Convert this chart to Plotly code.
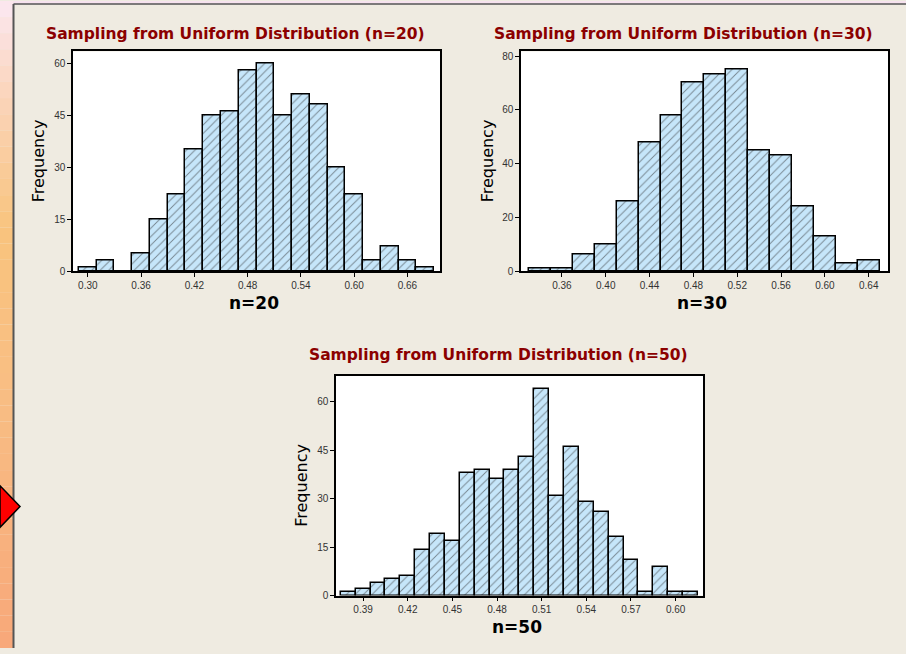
import plotly.graph_objects as go

W, H = 906, 654

# ---------------- data ----------------
bins_n20 = [0.30, 0.32, 0.34, 0.36, 0.38, 0.40, 0.42, 0.44, 0.46, 0.48,
            0.50, 0.52, 0.54, 0.56, 0.58, 0.60, 0.62, 0.64, 0.66, 0.68]
freq_n20 = [1, 3, 0, 5, 15, 22, 35, 45, 46, 58,
            60, 45, 51, 48, 30, 22, 3, 7, 3, 1]

bins_n30 = [0.34, 0.36, 0.38, 0.40, 0.42, 0.44, 0.46, 0.48,
            0.50, 0.52, 0.54, 0.56, 0.58, 0.60, 0.62, 0.64]
freq_n30 = [1, 1, 6, 10, 26, 48, 58, 70,
            73, 75, 45, 43, 24, 13, 3, 4]

bins_n50 = [0.38, 0.39, 0.40, 0.41, 0.42, 0.43, 0.44, 0.45, 0.46, 0.47, 0.48, 0.49,
            0.50, 0.51, 0.52, 0.53, 0.54, 0.55, 0.56, 0.57, 0.58, 0.59, 0.60, 0.61]
freq_n50 = [1, 2, 4, 5, 6, 14, 19, 17, 38, 39, 36, 39,
            43, 64, 31, 46, 29, 26, 18, 11, 1, 9, 1, 1]

xticks_n20 = [0.30, 0.36, 0.42, 0.48, 0.54, 0.60, 0.66]
xticks_n30 = [0.36, 0.40, 0.44, 0.48, 0.52, 0.56, 0.60, 0.64]
xticks_n50 = [0.39, 0.42, 0.45, 0.48, 0.51, 0.54, 0.57, 0.60]
yticks_n20 = [0, 15, 30, 45, 60]
yticks_n30 = [0, 20, 40, 60, 80]
yticks_n50 = [0, 15, 30, 45, 60]

titles = ["Sampling from Uniform Distribution (n=20)",
          "Sampling from Uniform Distribution (n=30)",
          "Sampling from Uniform Distribution (n=50)"]
xlabels = ["n=20", "n=30", "n=50"]
ylabel = "Frequency"

# ---------------- style ----------------
FILL = "#c6e6fa"
PANEL = "#efebe1"
TITLE_COLOR = "#8b0000"
TICKFONT = dict(family="Liberation Sans", size=10, color="#333333")


def px(x):
    return x / W


def py(y):
    return 1 - y / H


fig = go.Figure()

panels = [
    dict(x=bins_n20, y=freq_n20, w=0.02, xd=(73, 440), yd=(51, 273),
         xr=(0.2833, 0.6967), yr=(0, 63.4), xt=xticks_n20, yt=yticks_n20),
    dict(x=bins_n30, y=freq_n30, w=0.02, xd=(521, 888), yd=(51, 273),
         xr=(0.3227, 0.6576), yr=(0, 81.7), xt=xticks_n30, yt=yticks_n30),
    dict(x=bins_n50, y=freq_n50, w=0.01, xd=(336, 703), yd=(379, 601),
         xr=(0.3718, 0.6184), yr=(0, 68.0), xt=xticks_n50, yt=yticks_n50),
]

for i, p in enumerate(panels, start=1):
    sfx = "" if i == 1 else str(i)
    fig.add_trace(go.Bar(
        x=p["x"], y=p["y"], width=p["w"],
        marker=dict(color=FILL, line=dict(color="black", width=1.5),
                    pattern=dict(shape="/", fgcolor="#2a2a2a", bgcolor=FILL,
                                 size=6, solidity=0.16)),
        xaxis="x" + sfx, yaxis="y" + sfx, showlegend=False, hoverinfo="x+y"))
    axcommon = dict(showline=True, linecolor="black", linewidth=1.5, mirror=True,
                    ticks="outside", ticklen=4, tickwidth=1, tickcolor="black",
                    showgrid=False, zeroline=False, tickfont=TICKFONT, fixedrange=True)
    fig.update_layout(**{
        "xaxis" + sfx: dict(domain=[px(p["xd"][0]), px(p["xd"][1])],
                            range=list(p["xr"]), tickvals=p["xt"],
                            tickformat=".2f", anchor="y" + sfx, **axcommon),
        "yaxis" + sfx: dict(domain=[py(p["yd"][1]), py(p["yd"][0])],
                            range=list(p["yr"]), tickvals=p["yt"],
                            anchor="x" + sfx, **axcommon),
    })

# ---------------- text ----------------
title_pos = [(235, 33), (683, 33), (498, 358)]
xlabel_pos = [(254, 305), (702, 305), (517, 633)]
ylabel_pos = [(38, 162), (487, 162), (302, 490)]

for t, (x, y) in zip(titles, title_pos):
    fig.add_annotation(text="<b>" + t + "</b>", x=px(x), y=py(y), xref="paper", yref="paper",
                       xanchor="center", yanchor="middle", showarrow=False,
                       font=dict(family="DejaVu Sans", size=15.5, color=TITLE_COLOR))
for t, (x, y) in zip(xlabels, xlabel_pos):
    fig.add_annotation(text="<b>" + t + "</b>", x=px(x), y=py(y), xref="paper", yref="paper",
                       xanchor="center", yanchor="middle", showarrow=False,
                       font=dict(family="DejaVu Sans", size=17, color="black"))
for (x, y) in ylabel_pos:
    fig.add_annotation(text=ylabel, x=px(x), y=py(y), xref="paper", yref="paper",
                       xanchor="center", yanchor="middle", showarrow=False, textangle=-90,
                       font=dict(family="DejaVu Sans", size=16, color="black"))

# ---------------- decorative background ----------------
shapes = []
grad = [(0, (252, 232, 242)), (90, (251, 214, 190)), (230, (249, 196, 126)),
        (400, (249, 190, 132)), (654, (248, 168, 122))]
steps = 40
for k in range(steps):
    y0 = k * H / steps
    y1 = (k + 1) * H / steps
    ym = (y0 + y1) / 2
    for j in range(len(grad) - 1):
        if grad[j][0] <= ym <= grad[j + 1][0]:
            f = (ym - grad[j][0]) / (grad[j + 1][0] - grad[j][0])
            c = tuple(int(grad[j][1][m] + f * (grad[j + 1][1][m] - grad[j][1][m])) for m in range(3))
            break
    shapes.append(dict(type="rect", xref="paper", yref="paper", x0=0, x1=px(13.5),
                       y0=py(y1), y1=py(y0), fillcolor="rgb(%d,%d,%d)" % c,
                       line=dict(width=0), layer="below"))
shapes.append(dict(type="rect", xref="paper", yref="paper", x0=px(13.5), x1=1,
                   y0=py(3), y1=1, fillcolor="#f6e2ee", line=dict(width=0), layer="below"))
shapes.append(dict(type="line", xref="paper", yref="paper", x0=px(13.5), x1=px(13.5),
                   y0=0, y1=py(3), line=dict(color="#555555", width=2)))
shapes.append(dict(type="line", xref="paper", yref="paper", x0=px(13.5), x1=1,
                   y0=py(3), y1=py(3), line=dict(color="#555555", width=1.5)))
shapes.append(dict(type="path", xref="paper", yref="paper",
                   path="M 0 %f L %f %f L 0 %f Z" % (py(490), px(20), py(511), py(532)),
                   fillcolor="#ff0000", line=dict(color="black", width=1.5)))

fig.update_layout(width=W, height=H, margin=dict(l=0, r=0, t=0, b=0),
                  paper_bgcolor=PANEL, plot_bgcolor="white", bargap=0,
                  shapes=shapes, showlegend=False)

fig.write_html("out.html", config={"displayModeBar": False})
